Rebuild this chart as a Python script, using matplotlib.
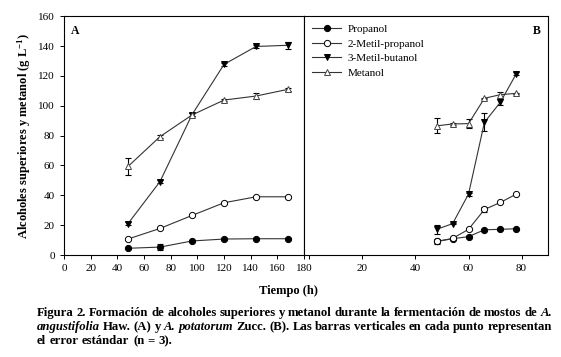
import numpy as np
import matplotlib
matplotlib.use("Agg")
import matplotlib.pyplot as plt
from matplotlib.lines import Line2D

plt.rcParams['font.family'] = 'Liberation Serif'
plt.rcParams['mathtext.fontset'] = 'custom'
plt.rcParams['mathtext.rm'] = 'Liberation Serif:bold'
plt.rcParams['mathtext.it'] = 'Liberation Serif:italic:bold'

# Panel A: A. angustifolia
t_a = [48, 72, 96, 120, 144, 168]
prop_a = [4.5, 5.3, 9.4, 10.7, 10.9, 10.9]
prop_a_err = [0.5, 2.0, 0.5, 0.5, 0.5, 0.5]
mprop_a = [10.7, 17.8, 26.5, 35.0, 39.0, 39.0]
mprop_a_err = [0.5, 0.5, 0.5, 0.5, 0.5, 0.5]
mbut_a = [21.0, 49.2, 94.0, 127.7, 139.7, 140.5]
mbut_a_err = [1.0, 1.0, 1.0, 1.0, 1.0, 2.5]
met_a = [59.3, 79.3, 93.8, 103.8, 106.5, 111.0]
met_a_err = [5.5, 1.0, 1.0, 0.5, 2.0, 1.0]

# Panel B: A. potatorum
t_b = [48, 54, 60, 66, 72, 78]
prop_b = [9.1, 10.9, 12.3, 16.9, 17.2, 17.6]
prop_b_err = [0.5, 0.5, 0.5, 0.5, 0.5, 0.5]
mprop_b = [9.1, 11.1, 17.2, 30.5, 35.2, 40.8]
mprop_b_err = [1.5, 0.5, 0.5, 1.5, 0.5, 0.5]
mbut_b = [17.2, 21.0, 40.8, 88.9, 102.3, 121.4]
mbut_b_err = [3.0, 0.5, 1.0, 6.0, 2.0, 1.0]
met_b = [86.5, 87.8, 88.0, 105.0, 107.4, 108.3]
met_b_err = [5.0, 0.5, 3.0, 0.5, 2.0, 0.5]

labels = ['Propanol', '2-Metil-propanol', '3-Metil-butanol', 'Metanol']

fig = plt.figure(figsize=(5.61, 3.57), dpi=100)
ax_a = fig.add_axes([0.114, 0.2857, 0.428, 0.669])
ax_b = fig.add_axes([0.542, 0.2857, 0.435, 0.669])

styles = [
    dict(marker='o', mfc='black', mec='black'),
    dict(marker='o', mfc='white', mec='black'),
    dict(marker='v', mfc='black', mec='black'),
    dict(marker='^', mfc='white', mec='#444444'),
]


def draw_panel(ax, t, series, errs):
    for y, e, st in zip(series, errs, styles):
        ax.errorbar(t, y, yerr=e, fmt='none', ecolor='black',
                    elinewidth=0.8, capsize=2.5, capthick=0.8, zorder=2)
        ax.plot(t, y, color='#333333', lw=0.8, ms=4.5, mew=0.7, zorder=3, **st)
    ax.set_ylim(0, 160)
    ax.tick_params(labelsize=8, length=3, width=0.7)
    for s in ax.spines.values():
        s.set_linewidth(0.8)


draw_panel(ax_a, t_a, [prop_a, mprop_a, mbut_a, met_a],
           [prop_a_err, mprop_a_err, mbut_a_err, met_a_err])
draw_panel(ax_b, t_b, [prop_b, mprop_b, mbut_b, met_b],
           [prop_b_err, mprop_b_err, mbut_b_err, met_b_err])

ax_a.set_xlim(0, 180)
ax_a.set_xticks(np.arange(0, 181, 20))
ax_a.set_yticks(np.arange(0, 161, 20))
ax_a.set_ylabel('Alcoholes superiores y metanol (g L$^{-1}$)',
                fontsize=9, fontweight='bold', labelpad=4)
ax_a.text(0.03, 0.965, 'A', transform=ax_a.transAxes, fontsize=8.5,
          fontweight='bold', va='top', ha='left')

ax_b.set_xlim(-2, 90)
ax_b.set_xticks([0, 20, 40, 60, 80])
ax_b.set_xticklabels(['', '20', '40', '60', '80'])
ax_b.tick_params(axis='y', left=False, labelleft=False)
ax_b.text(0.97, 0.965, 'B', transform=ax_b.transAxes, fontsize=8.5,
          fontweight='bold', va='top', ha='right')
handles = [Line2D([], [], color='#333333', lw=0.8, ms=4.5, mew=0.7, **st)
           for st in styles]
ax_b.legend(handles, labels, loc='upper left', frameon=False, fontsize=8,
            handlelength=2.6, handletextpad=0.6, labelspacing=0.42,
            borderaxespad=0.3, borderpad=0.45)

fig.text(0.515, 1 - 291 / 357, 'Tiempo (h)', fontsize=9, fontweight='bold',
         ha='center', va='center')

# caption, justified like the original
cap_lines = [
    [('Figura 2. Formación de alcoholes superiores y metanol durante la fermentación de mostos de', 'normal'),
     ('A.', 'italic')],
    [('angustifolia', 'italic'), ('Haw. (A) y', 'normal'), ('A. potatorum', 'italic'),
     ('Zucc. (B). Las barras verticales en cada punto representan', 'normal')],
    [('el error estándar (n = 3).', 'normal')],
]
cap_y = [313, 327, 341]
x0, x1 = 37, 552
rend = fig.canvas.get_renderer()
W = fig.bbox.width
H = fig.bbox.height
for k, (line, ypx) in enumerate(zip(cap_lines, cap_y)):
    words = []
    for txt, st in line:
        for w in txt.split():
            words.append((w, st))
    texts = []
    widths = []
    for w, st in words:
        tx = fig.text(0, 1 - ypx / H, w, fontsize=9.2, fontweight='bold',
                      style=st, va='center', ha='left')
        texts.append(tx)
        widths.append(tx.get_window_extent(renderer=rend).width)
    if k < len(cap_lines) - 1:
        gap = (x1 - x0 - sum(widths)) / (len(words) - 1)
    else:
        gap = 3.5
    x = x0
    for tx, wd in zip(texts, widths):
        tx.set_x(x / W)
        x += wd + gap

fig.savefig('out.png', dpi=100)
